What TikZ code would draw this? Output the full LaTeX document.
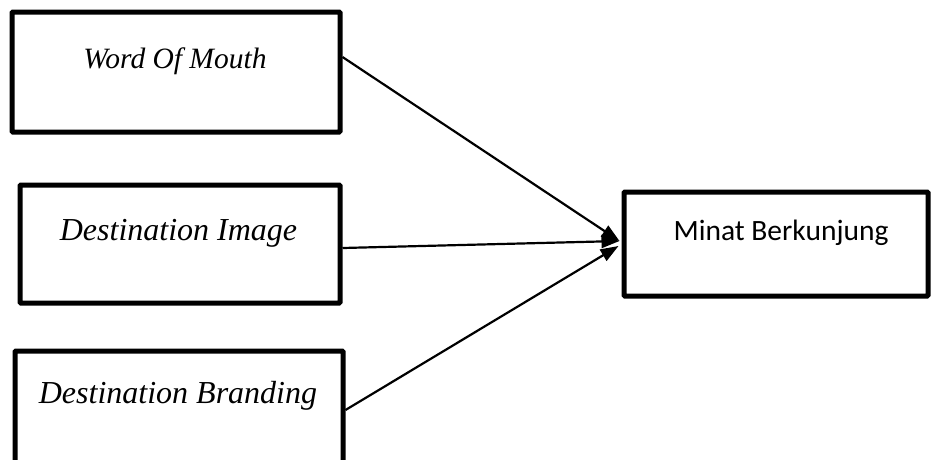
\documentclass[tikz,border=0pt]{standalone}
\usepackage{fontspec}
\setmainfont{Liberation Serif}
\newfontfamily\calibrifont{Carlito}
\usetikzlibrary{arrows.meta}
\begin{document}
\begin{tikzpicture}[x=1pt,y=-1pt,
  box/.style={draw, line width=5pt, inner sep=0pt, rounded corners=1pt},
  lbl/.style={anchor=base, inner sep=0pt, font=\fontsize{32}{36}\selectfont\itshape},
  conn/.style={line width=2.2pt, -{Triangle[length=18pt,width=13pt]}}]
\useasboundingbox (0,0) rectangle (931,459);
\node[box, minimum width=328pt, minimum height=120pt] (b1) at (176,72) {};
\node[box, minimum width=320pt, minimum height=118pt] (b2) at (180,244) {};
\node[box, minimum width=328pt, minimum height=122pt] (b3) at (179,412) {};
\node[box, minimum width=304pt, minimum height=104pt] (b4) at (776,244) {};
\node[lbl, font=\fontsize{29.5}{34}\selectfont\itshape] (t1) at (175,68) {Word Of Mouth};
\node[lbl] (t2) at (178.5,240) {Destination Image};
\node[lbl] (t3) at (178,403) {Destination Branding};
\node[lbl, font=\fontsize{29.5}{34}\selectfont\calibrifont] (t4) at (781,240) {Minat Berkunjung};
\draw[conn] ([yshift=15pt]b1.east) -- ([xshift=-2pt,yshift=3pt]b4.west);
\draw[conn] ([yshift=-4pt]b2.east) -- ([xshift=-2pt,yshift=3pt]b4.west);
\draw[conn] ([yshift=2pt]b3.east) -- ([xshift=-3pt,yshift=-2pt]b4.west);
\end{tikzpicture}
\end{document}
